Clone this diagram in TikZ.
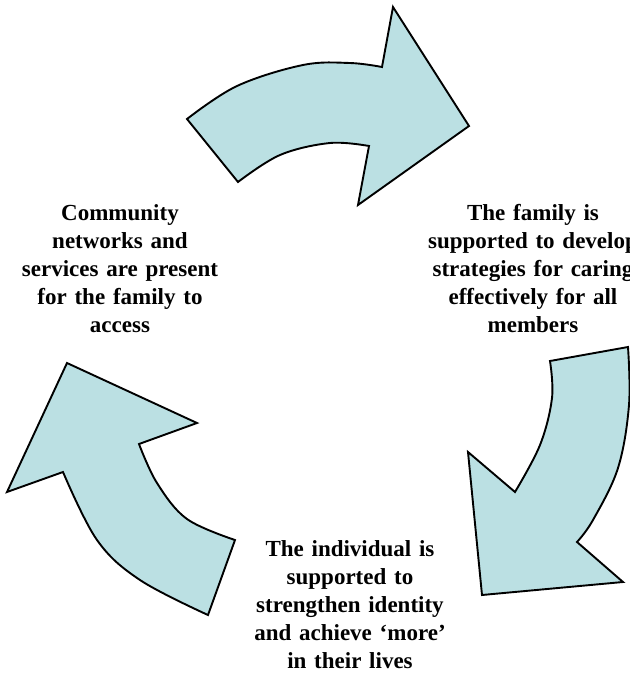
\documentclass[tikz,border=0pt]{standalone}
\usepackage{fontspec}
\setmainfont[WordSpace=1.35]{Liberation Serif}
\definecolor{arrowfill}{RGB}{187,224,227}
\begin{document}
\begin{tikzpicture}[x=1pt,y=-1pt,
  cyclearrow/.style={draw=black,fill=arrowfill,line width=1.9pt,line join=miter},
  caption/.style={align=center,font=\bfseries\fontsize{23}{28}\selectfont,inner sep=0pt}]
\clip (0,0) rectangle (630,673);
\fill[white] (0,0) rectangle (630,673);
% top arrow
\draw[cyclearrow] plot[smooth,tension=0.6] coordinates {(187,119) (237,86) (303,65) (350,63) (382,67)}
  -- (393,7) -- (469,126) -- (358,205) -- (369,146)
  -- plot[smooth,tension=0.6] coordinates {(369,146) (330,143) (280,155) (238,182)}
  -- cycle;
% right arrow
\draw[cyclearrow] plot[smooth,tension=0.6] coordinates {(628,347) (629,405) (618,468) (593,520) (577,542)}
  -- (623,582) -- (482,595) -- (468,452) -- (515,492)
  -- plot[smooth,tension=0.6] coordinates {(515,492) (540,445) (552,398) (550,361)}
  -- cycle;
% left arrow
\draw[cyclearrow] (67,363) -- (197,423) -- (139,444)
  -- plot[smooth,tension=0.6] coordinates {(139,444) (157,483) (187,519) (235,540)}
  -- (208,615)
  -- plot[smooth,tension=0.6] coordinates {(208,615) (140,580) (97,540) (63,472)}
  -- (7,492) -- cycle;
\node[caption] (community) at (120,269) {Community\\networks and\\services are present\\for the family to\\access};
\node[caption] (family) at (533,269) {The family is\\supported to develop\\strategies for caring\\effectively for all\\members};
\node[caption] (individual) at (350,605) {The individual is\\supported to\\strengthen identity\\and achieve ‘more’\\in their lives};
\end{tikzpicture}
\end{document}
